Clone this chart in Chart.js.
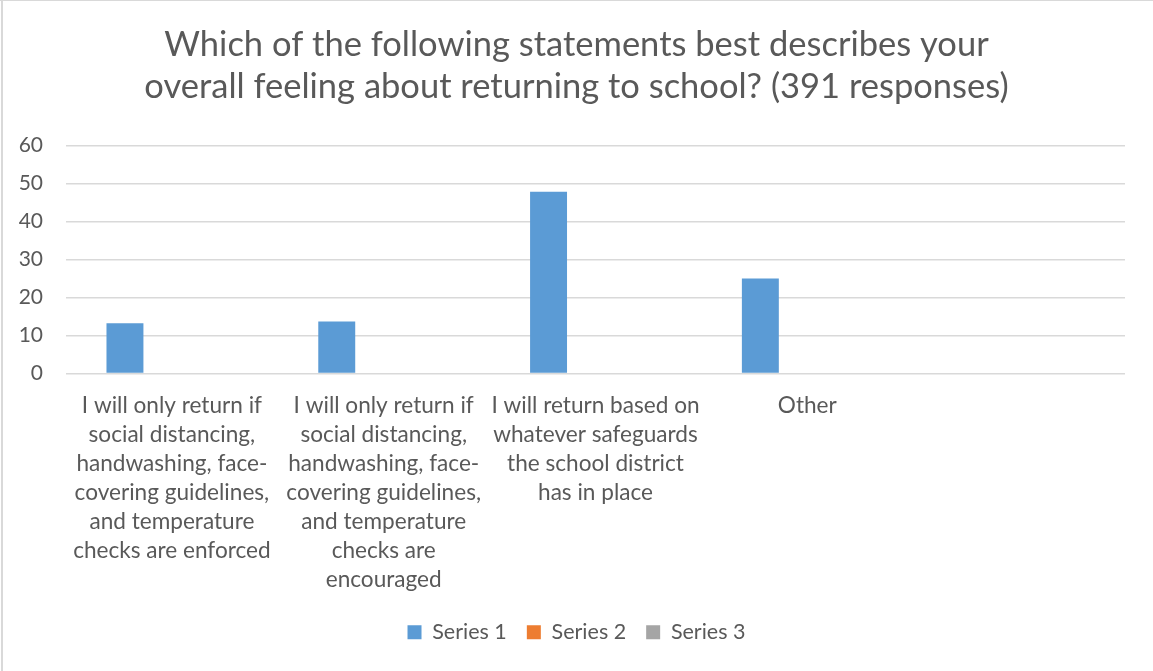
<!DOCTYPE html>
<html>
<head>
<meta charset="utf-8">
<script src="https://cdn.jsdelivr.net/npm/chart.js@4"></script>
<style>
html,body{margin:0;padding:0;background:#fff;}
#wrap{position:relative;width:1153px;height:671px;}
canvas{display:block;}
</style>
</head>
<body>
<div id="wrap"><canvas id="c" width="1153" height="671"></canvas></div>
<script>
const titleLines = ["Which of the following statements best describes your", "overall feeling about returning to school? (391 responses)"];
const categories = [
  ["I will only return if", "social distancing,", "handwashing, face-", "covering guidelines,", "and temperature", "checks are enforced"],
  ["I will only return if", "social distancing,", "handwashing, face-", "covering guidelines,", "and temperature", "checks are", "encouraged"],
  ["I will return based on", "whatever safeguards", "the school district", "has in place"],
  "Other",
  ""
];
const seriesNames = ["Series 1", "Series 2", "Series 3"];
const series1 = [13.2, 13.7, 47.8, 25.0, null];
const series2 = [0, 0, 0, 0, null];
const series3 = [0, 0, 0, 0, null];
const yTicks = [0, 10, 20, 30, 40, 50, 60];

const FONT = "Lato";
const TXT = "#595959";
const colors = ["#5B9BD5", "#ED7D31", "#A5A5A5"];

const framePlugin = {
  id: 'frame',
  beforeDraw(chart) {
    const ctx = chart.ctx;
    ctx.save();
    ctx.fillStyle = '#fff';
    ctx.fillRect(0, 0, chart.width, chart.height);
    ctx.fillStyle = '#d9d9d9';
    ctx.fillRect(0, 0, chart.width, 1);
    ctx.fillRect(1, 0, 2, chart.height);
    ctx.restore();
  }
};

const mk = (name, data, i) => ({
  label: name, data: data, backgroundColor: colors[i], borderWidth: 0,
  barPercentage: 0.787, categoryPercentage: 0.665, yAxisID: 'y'
});

new Chart(document.getElementById('c'), {
  type: 'bar',
  data: {
    labels: categories,
    datasets: [mk(seriesNames[0], series1, 0), mk(seriesNames[1], series2, 1), mk(seriesNames[2], series3, 2)]
  },
  plugins: [framePlugin],
  options: {
    responsive: false,
    animation: false,
    devicePixelRatio: 1,
    layout: { padding: { left: 0, right: 0, top: 24, bottom: 18 } },
    plugins: {
      tooltip: { enabled: false },
      title: {
        display: true, text: titleLines, color: TXT,
        font: { family: FONT, size: 34.5, weight: 'normal', lineHeight: 1.21 },
        padding: { top: 0, bottom: 38 }
      },
      legend: {
        display: true, position: 'bottom',
        labels: {
          color: TXT, font: { family: FONT, size: 21.5 },
          boxWidth: 14, boxHeight: 14, padding: 20
        }
      }
    },
    scales: {
      x: {
        grid: { display: false, drawTicks: false },
        border: { display: false },
        ticks: { color: TXT, font: { family: FONT, size: 22.6, lineHeight: 1.28 }, maxRotation: 0, autoSkip: false, padding: 18 },
        afterFit(scale) { scale.height = 228; }
      },
      y: {
        position: 'left',
        min: 0, max: 60,
        afterBuildTicks(scale) { scale.ticks = yTicks.map(v => ({ value: v })); },
        grid: { color: '#d9d9d9', lineWidth: 1.5, drawTicks: false },
        border: { display: false },
        ticks: { color: TXT, font: { family: FONT, size: 21 }, padding: 23 },
        afterFit(scale) { scale.width = 66; }
      },
      yRight: {
        position: 'right',
        display: true,
        min: 0, max: 60,
        grid: { display: false, drawTicks: false },
        border: { display: false },
        ticks: { display: false },
        afterFit(scale) { scale.width = 28; }
      }
    }
  }
});
</script>
</body>
</html>
